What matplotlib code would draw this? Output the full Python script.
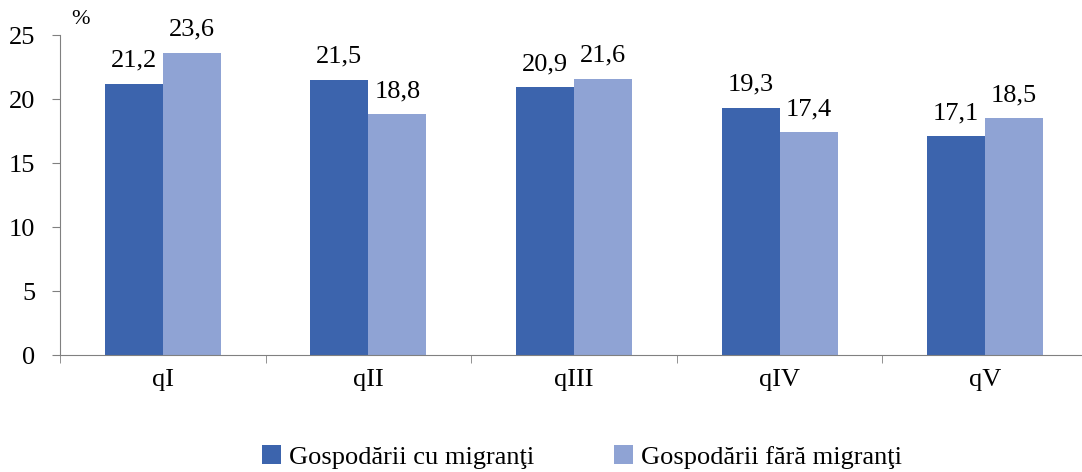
import numpy as np
import matplotlib
matplotlib.use('Agg')
import matplotlib.pyplot as plt

# quintile groups and shares (%)
groups = ['qI', 'qII', 'qIII', 'qIV', 'qV']
with_migrants = [21.2, 21.5, 20.9, 19.3, 17.1]
without_migrants = [23.6, 18.8, 21.6, 17.4, 18.5]
labels = ['Gospodării cu migranţi', 'Gospodării fără migranţi']

plt.rcParams['font.family'] = ['Liberation Serif', 'DejaVu Serif']

W, H = 1082, 472
fig = plt.figure(figsize=(W / 100, H / 100), dpi=100)
ax = fig.add_axes([60 / W, 1 - 355 / H, 1028 / W, 320 / H])

x = np.arange(len(groups))
bw = 0.282
b1 = ax.bar(x - bw / 2, with_migrants, bw, color='#3C64AD', label=labels[0])
b2 = ax.bar(x + bw / 2, without_migrants, bw, color='#8FA3D4', label=labels[1])

for bars, vals in ((b1, with_migrants), (b2, without_migrants)):
    for r, v in zip(bars, vals):
        ax.text(r.get_x() + r.get_width() / 2, v + 0.95, f'{v:.1f}'.replace('.', ','),
                ha='center', va='bottom', fontsize=19)

ax.set_xlim(-0.5, len(groups) - 0.5)
ax.set_ylim(0, 25)
ax.set_yticks(range(0, 26, 5))
ax.set_xticks(x)
ax.set_xticklabels(groups)
ax.set_xticks(np.arange(-0.5, len(groups), 1), minor=True)
ax.tick_params(axis='x', which='major', length=0, pad=10, labelsize=19)
ax.tick_params(axis='x', which='minor', length=6, color='#808080')
ax.tick_params(axis='y', length=6, color='#808080', labelsize=19, pad=12)
for s in ('top', 'right'):
    ax.spines[s].set_visible(False)
for s in ('left', 'bottom'):
    ax.spines[s].set_color('#808080')

ax.text(-0.40, 25.5, '%', fontsize=16, ha='center', va='bottom')

fig.legend(loc='center', bbox_to_anchor=(582 / W, 1 - 457 / H), ncol=2, frameon=False,
           fontsize=19, handlelength=0.7, handleheight=0.7, handletextpad=0.3,
           columnspacing=3.05)

fig.savefig('out.png', dpi=100)
